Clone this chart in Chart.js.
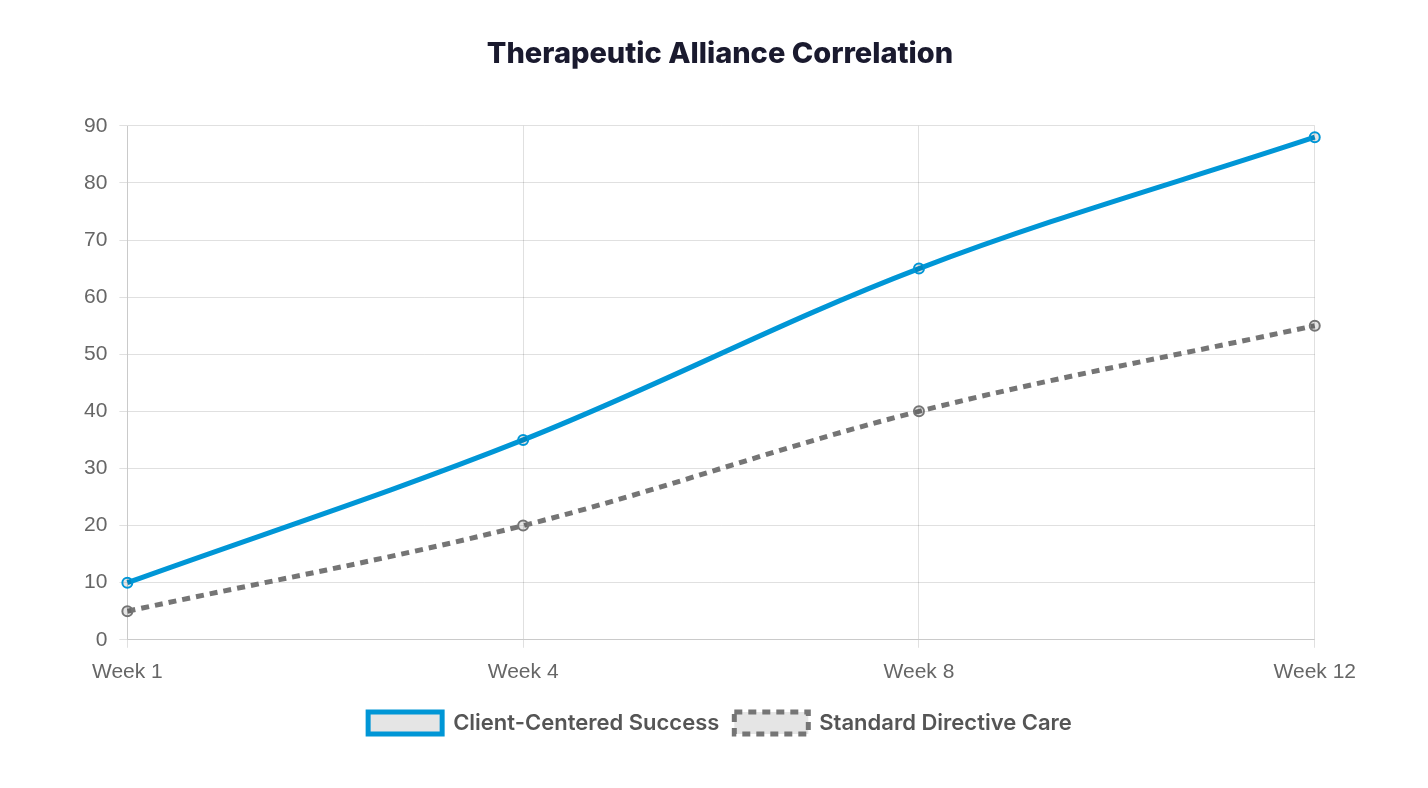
<!DOCTYPE html>
<html>
<head>
<meta charset="utf-8">
<script src="https://cdn.jsdelivr.net/npm/chart.js@4.4.1/dist/chart.umd.min.js"></script>
<style>
    html, body { margin: 0; padding: 0; background: #fff; }
    .wrap { width: 1428px; height: 788px; box-sizing: border-box; padding: 20px 60px 44px 72px; }
</style>
</head>
<body>
<div class="wrap"><canvas id="allianceChart"></canvas></div>
<script>
const weeks = ["Week 1", "Week 4", "Week 8", "Week 12"];
const clientCentered = [10, 35, 65, 88];
const standardCare = [5, 20, 40, 55];

document.addEventListener("DOMContentLoaded", function () {
    Chart.defaults.font.family = "'Liberation Sans', Arial, sans-serif";

    const ctx = document.getElementById("allianceChart").getContext("2d");
    new Chart(ctx, {
        type: "line",
        data: {
            labels: weeks,
            datasets: [{
                label: "Client-Centered Success",
                data: clientCentered,
                borderColor: "#0096d6",
                borderWidth: 5,
                tension: 0.35,
                pointRadius: 5,
                pointBorderWidth: 2
            }, {
                label: "Standard Directive Care",
                data: standardCare,
                borderColor: "#757575",
                borderWidth: 5,
                borderDash: [8, 6],
                tension: 0.35,
                pointRadius: 5,
                pointBorderWidth: 2
            }]
        },
        options: {
            responsive: true,
            maintainAspectRatio: false,
            animation: false,
            plugins: {
                title: {
                    display: true,
                    text: "Therapeutic Alliance Correlation",
                    color: "#1a1a2e",
                    font: { family: "Inter, sans-serif", size: 29, weight: "800" },
                    padding: { top: 17, bottom: 54 }
                },
                legend: {
                    position: "bottom",
                    labels: {
                        color: "#555",
                        font: { family: "Inter, sans-serif", size: 22, weight: "600" },
                        boxWidth: 74,
                        padding: 15
                    }
                }
            },
            scales: {
                y: {
                    beginAtZero: true,
                    max: 90,
                    grid: { color: "rgba(0,0,0,0.12)" },
                    ticks: { stepSize: 10, color: "#666", padding: 12, font: { size: 21 } }
                },
                x: {
                    grid: { color: "rgba(0,0,0,0.12)" },
                    ticks: { color: "#666", padding: 12, font: { size: 21 } }
                }
            }
        }
    });
});
</script>
</body>
</html>
